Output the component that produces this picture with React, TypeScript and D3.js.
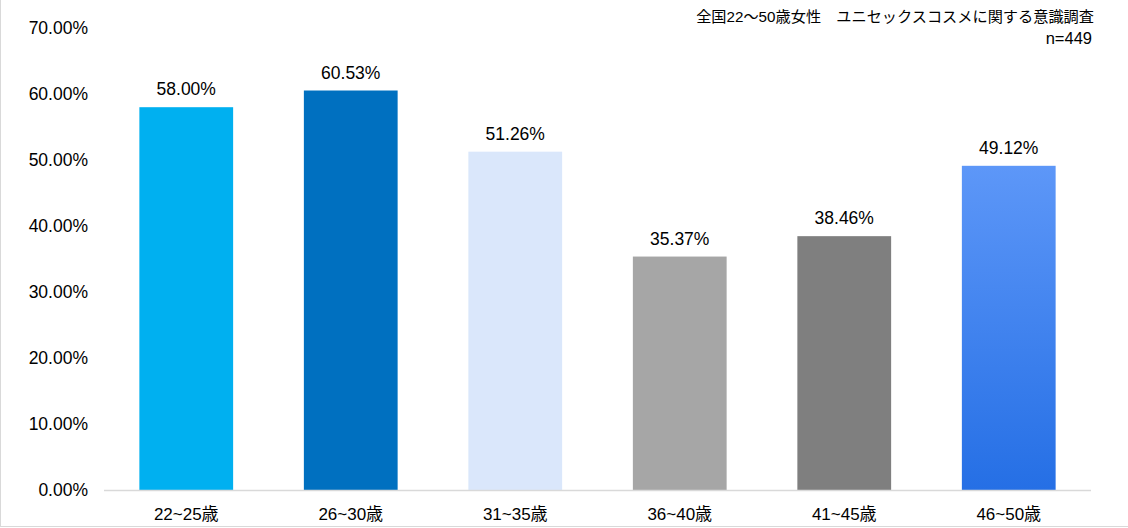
import React from "react";
import * as d3 from "d3";

const categories = ["22~25歳", "26~30歳", "31~35歳", "36~40歳", "41~45歳", "46~50歳"];
const values = [58.0, 60.53, 51.26, 35.37, 38.46, 49.12];
const barColors = ["#00b0f0", "#0070c0", "#dae7fb", "#a6a6a6", "#7f7f7f", "url(#grad6)"];
const yTicks = [0, 10, 20, 30, 40, 50, 60, 70];
const titleText = "全国22～50歳女性　ユニセックスコスメに関する意識調査";
const nText = "n=449";

const W = 1128;
const H = 528;
const FONT = "'Liberation Sans', Arial, 'Noto Sans CJK JP', sans-serif";

export default function App() {
  const x = d3.scaleBand<string>().domain(categories).range([104, 1091]).paddingInner(0.43).paddingOuter(0.215);
  const y = d3.scaleLinear().domain([0, 70]).range([490, 28]);
  return (
    <svg width={W} height={H} style={{ position: "absolute", left: 0, top: 0, background: "#fff" }}>
      <defs>
        <linearGradient id="grad6" x1="0" y1="0" x2="0" y2="1">
          <stop offset="0%" stopColor="#5d97f8" />
          <stop offset="100%" stopColor="#256fe5" />
        </linearGradient>
      </defs>
      <rect x={0} y={0} width={W} height={H} fill="#fff" />
      <line x1={0.5} y1={0} x2={0.5} y2={527} stroke="#d9d9d9" />
      <line x1={0} y1={526.5} x2={W} y2={526.5} stroke="#d9d9d9" />
      {yTicks.map((t) => (
        <text key={t} x={88} y={y(t)} dy="0.35em" textAnchor="end" fontSize={17.5} fontFamily={FONT} fill="#000">
          {t.toFixed(2) + "%"}
        </text>
      ))}
      {categories.map((c, i) => (
        <g key={c}>
          <rect x={x(c)} y={y(values[i])} width={x.bandwidth()} height={y(0) - y(values[i])} fill={barColors[i]} />
          <text x={(x(c) as number) + x.bandwidth() / 2} y={y(values[i]) - 12} textAnchor="middle" fontSize={17.5} fontFamily={FONT} fill="#000">
            {values[i].toFixed(2) + "%"}
          </text>
          <text x={(x(c) as number) + x.bandwidth() / 2} y={514.5} dy="0.35em" textAnchor="middle" fontSize={17} fontFamily={FONT} fill="#000">
            {c}
          </text>
        </g>
      ))}
      <line x1={104} y1={490.5} x2={1091} y2={490.5} stroke="#d9d9d9" strokeWidth={1.5} />
      <text x={1094} y={22} textAnchor="end" fontSize={15.2} fontFamily={FONT} fill="#000">{titleText}</text>
      <text x={1092} y={44} textAnchor="end" fontSize={16.5} fontFamily={FONT} fill="#000">{nText}</text>
    </svg>
  );
}
